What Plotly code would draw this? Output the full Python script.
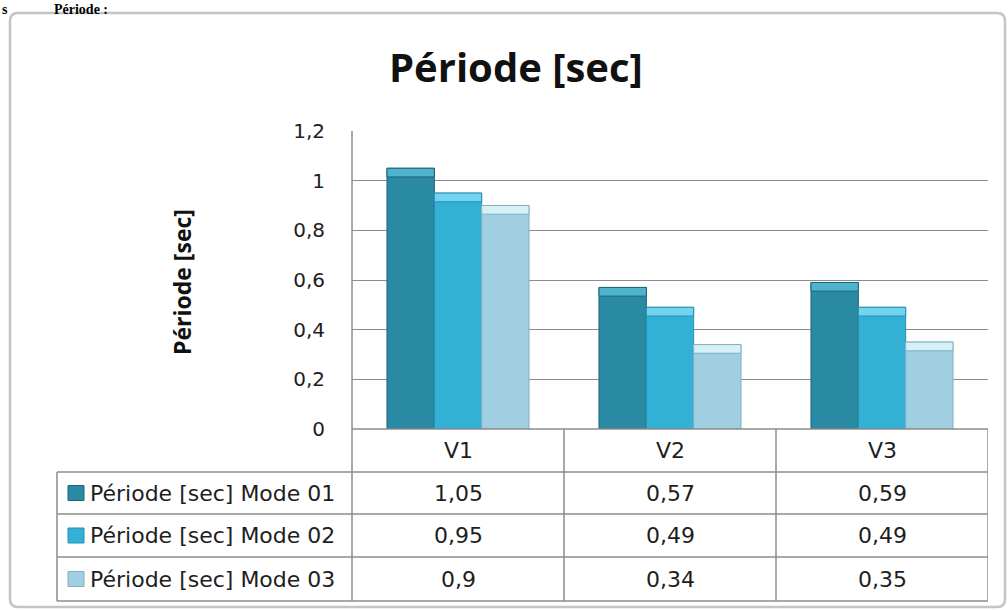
import plotly.graph_objects as go

# ---- data -------------------------------------------------------------
categories = ["V1", "V2", "V3"]
series_names = ["Période [sec] Mode 01", "Période [sec] Mode 02", "Période [sec] Mode 03"]
mode01 = [1.05, 0.57, 0.59]
mode02 = [0.95, 0.49, 0.49]
mode03 = [0.90, 0.34, 0.35]
y_ticks = [0, 0.2, 0.4, 0.6, 0.8, 1.0, 1.2]

series = [mode01, mode02, mode03]
body_colors = ["#2b8aa3", "#33b0d5", "#9fcfe0"]
edge_colors = ["#1d6479", "#2790b0", "#7fb0c2"]
cap_colors = ["#4fb3cc", "#72d4ef", "#d6f0f8"]

FONT = "DejaVu Sans"
TITLE_FONT = "Open Sans"
TXT = "#1e1e1e"
GRID = "#8c8c8c"

# plot-area box in pixels (figure is 1008 x 610)
W, H = 1008, 610
PL, PR, PT, PB = 352, 988, 131, 429


def px(x):
    return (x - PL) / (PR - PL)


def py(y):
    return (PB - y) / (PB - PT)


fig = go.Figure()

cap = 0.035
for k, vals in enumerate(series):
    fig.add_trace(go.Bar(
        x=categories, y=vals, name=series_names[k], offsetgroup=str(k),
        marker=dict(color=body_colors[k], line=dict(color=edge_colors[k], width=1)),
        showlegend=False,
    ))
    # bevelled highlight along the top of each bar
    fig.add_trace(go.Bar(
        x=categories, y=[cap] * len(vals), base=[v - cap for v in vals],
        offsetgroup=str(k), hoverinfo="skip",
        marker=dict(color=cap_colors[k], line=dict(color=edge_colors[k], width=1)),
        showlegend=False,
    ))

shapes = []
line_style = dict(color=GRID, width=1.5)

# outer rounded frame
fx0, fx1, fy0, fy1, r = 10, 1005, 13, 607, 8
path = (f"M {px(fx0 + r)},{py(fy0)} L {px(fx1 - r)},{py(fy0)} "
        f"Q {px(fx1)},{py(fy0)} {px(fx1)},{py(fy0 + r)} L {px(fx1)},{py(fy1 - r)} "
        f"Q {px(fx1)},{py(fy1)} {px(fx1 - r)},{py(fy1)} L {px(fx0 + r)},{py(fy1)} "
        f"Q {px(fx0)},{py(fy1)} {px(fx0)},{py(fy1 - r)} L {px(fx0)},{py(fy0 + r)} "
        f"Q {px(fx0)},{py(fy0)} {px(fx0 + r)},{py(fy0)} Z")
shapes.append(dict(type="path", xref="paper", yref="paper", path=path,
                   line=dict(color="#c4c4c4", width=2.5), layer="below"))

# data table grid
row_lines = [472, 514, 557, 601]
tbl_left = 57
shapes.append(dict(type="line", xref="paper", yref="paper", x0=0, x1=1, y0=0, y1=0, line=line_style))
for yy in row_lines:
    shapes.append(dict(type="line", xref="paper", yref="paper", x0=px(tbl_left), x1=1,
                       y0=py(yy), y1=py(yy), line=line_style))
shapes.append(dict(type="line", xref="paper", yref="paper", x0=px(tbl_left), x1=px(tbl_left),
                   y0=py(row_lines[0]), y1=py(row_lines[-1]), line=line_style))
shapes.append(dict(type="line", xref="paper", yref="paper", x0=0, x1=0,
                   y0=1, y1=py(row_lines[-1]), line=line_style))
for i in range(len(categories)):
    shapes.append(dict(type="line", xref="x", yref="paper", x0=i + 0.5, x1=i + 0.5,
                       y0=0, y1=py(row_lines[-1]), line=line_style))

annotations = []
cell_font = dict(family=FONT, size=22, color=TXT)
# header row with category names
for i, c in enumerate(categories):
    annotations.append(dict(x=i, xref="x", y=py((PB + row_lines[0]) / 2), yref="paper",
                            xanchor="center", yanchor="middle",
                            text=c, showarrow=False, font=cell_font))

# value rows with legend keys
key_h = 15 / (PB - PT)
for k, vals in enumerate(series):
    yc = py((row_lines[k] + row_lines[k + 1]) / 2)
    shapes.append(dict(type="rect", xref="paper", yref="paper",
                       x0=px(68), x1=px(84), y0=yc - key_h / 2, y1=yc + key_h / 2,
                       fillcolor=body_colors[k], line=dict(color=edge_colors[k], width=1)))
    annotations.append(dict(x=px(88), xref="paper", y=yc, yref="paper",
                            xanchor="left", yanchor="middle",
                            text=series_names[k], showarrow=False, font=cell_font))
    for i, v in enumerate(vals):
        annotations.append(dict(x=i, xref="x", y=yc, yref="paper",
                                xanchor="center", yanchor="middle",
                                text=f"{v:g}".replace(".", ","), showarrow=False, font=cell_font))

# chart title
annotations.append(dict(x=px(516), xref="paper", y=py(66), yref="paper",
                        xanchor="center", yanchor="middle", text="<b>Période [sec]</b>",
                        showarrow=False, font=dict(family=TITLE_FONT, size=40, color="#111")))
# vertical axis title
annotations.append(dict(x=px(182), xref="paper", y=py(282), yref="paper",
                        xanchor="center", yanchor="middle", text="<b>Période [sec]</b>",
                        textangle=-90, showarrow=False,
                        font=dict(family=TITLE_FONT, size=23, color="#111")))
# heading text running above the chart frame
annotations.append(dict(x=px(0), xref="paper", y=py(0), yref="paper",
                        xanchor="left", yanchor="top",
                        text="<b>s</b>", showarrow=False,
                        font=dict(family="Liberation Serif", size=14, color="#000")))
annotations.append(dict(x=px(52), xref="paper", y=py(0), yref="paper",
                        xanchor="left", yanchor="top",
                        text="<b>Période :</b>", showarrow=False,
                        font=dict(family="Liberation Serif", size=14, color="#000")))

fig.update_layout(
    width=W, height=H,
    margin=dict(l=PL, r=W - PR, t=PT, b=H - PB, pad=0),
    paper_bgcolor="white", plot_bgcolor="white",
    barmode="group", bargap=0.33, bargroupgap=0,
    separators=", ",
    shapes=shapes, annotations=annotations,
    xaxis=dict(range=[-0.5, 2.5], showticklabels=False, showgrid=False, zeroline=False,
               showline=False, fixedrange=True),
    yaxis=dict(range=[0, 1.2], tickvals=y_ticks, showgrid=True, gridcolor=GRID, gridwidth=1,
               zeroline=False, showline=False, ticks="", ticklabelstandoff=26,
               tickfont=dict(family=FONT, size=20, color=TXT), fixedrange=True),
    font=dict(family=FONT),
)

fig.write_html("out.html")
